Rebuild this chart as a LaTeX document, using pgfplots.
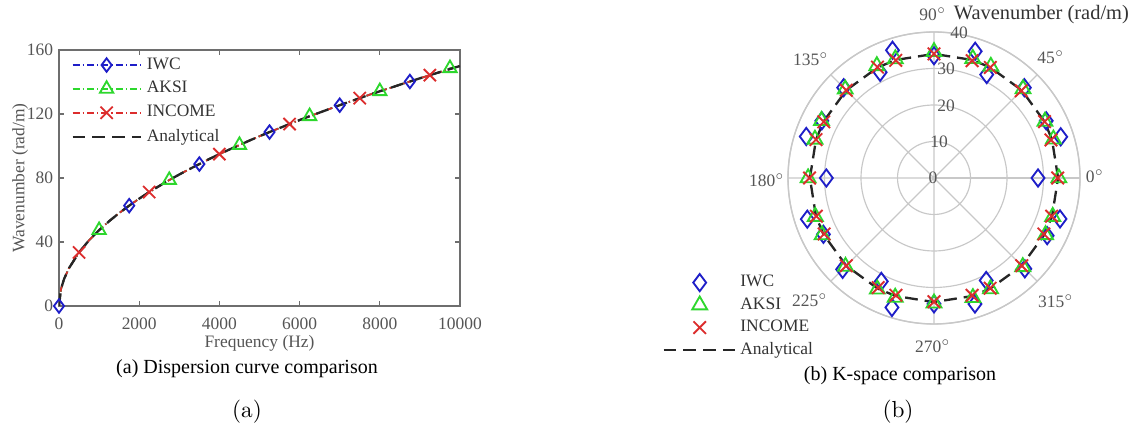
\documentclass[border=0pt]{standalone}
\usepackage{fontspec}
\newfontfamily\tnr{Liberation Serif}
\usepackage{pgfplots}
\usepackage{pgfplotstable}
\pgfplotsset{compat=1.18}
\usepgfplotslibrary{polar}
\definecolor{cblue}{RGB}{30,30,200}
\definecolor{cgreen}{RGB}{45,215,45}
\definecolor{cred}{RGB}{220,45,45}
\definecolor{txtgray}{RGB}{85,85,85}
\definecolor{axgray}{RGB}{110,110,110}
\definecolor{gridgray}{RGB}{200,200,200}
\newcommand\ft{\tnr\fontsize{7.5pt}{9pt}\selectfont}
\newcommand\ftcap{\tnr\fontsize{8.6pt}{10pt}\selectfont}
\newcommand\fttitle{\tnr\fontsize{8.8pt}{10pt}\selectfont}
\pgfplotsset{
  mylegmark/.style={legend image code/.code={\path[draw=none] (0pt,0pt) -- (32.5pt,0pt); \draw[##1, only marks] plot coordinates {(15.5pt,0pt)};}},
  mylegline/.style={legend image code/.code={\path[draw=none] (0pt,0pt) -- (32.5pt,0pt); \draw[##1] plot coordinates {(0pt,0pt) (30.5pt,0pt)};}},
  mylegleft/.style={legend image code/.code={\path[draw=none] (0pt,0pt) -- (31.4pt,0pt); \draw[##1, mark indices={2}] plot coordinates {(0pt,0pt) (14.6pt,0pt) (29.2pt,0pt)};}},
}

\pgfplotstableread{
f     iwc    aksi   income ana
0     0      0      0      0
50    10.6   10.6   10.6   10.6
125   16.8   16.8   16.8   16.8
250   23.7   23.7   23.7   23.7
500   33.5   33.5   33.5   33.5
750   41.1   41.1   41.1   41.1
1000  47.4   47.4   47.4   47.4
1250  53.0   53.0   53.0   53.0
1500  58.1   58.1   58.1   58.1
1750  62.7   62.7   62.7   62.7
2000  67.1   67.1   67.1   67.1
2250  71.2   71.2   71.2   71.2
2500  75.0   75.0   75.0   75.0
2750  78.7   78.7   78.7   78.7
3000  82.2   82.2   82.2   82.2
3250  85.5   85.5   85.5   85.5
3500  88.7   88.7   88.7   88.7
3750  91.9   91.9   91.9   91.9
4000  94.9   94.9   94.9   94.9
4250  97.8   97.8   97.8   97.8
4500  100.6  100.6  100.6  100.6
4750  103.4  103.4  103.4  103.4
5000  106.1  106.1  106.1  106.1
5250  108.7  108.7  108.7  108.7
5500  111.2  111.2  111.2  111.2
5750  113.7  113.7  113.7  113.7
6000  116.2  116.2  116.2  116.2
6250  118.6  118.6  118.6  118.6
6500  120.9  120.9  120.9  120.9
6750  123.2  123.2  123.2  123.2
7000  125.5  125.5  125.5  125.5
7250  127.7  127.7  127.7  127.7
7500  129.9  129.9  129.9  129.9
7750  132.1  132.1  132.1  132.1
8000  134.2  134.2  134.2  134.2
8250  136.2  136.2  136.2  136.2
8500  138.3  138.3  138.3  138.3
8750  140.3  140.3  140.3  140.3
9000  142.3  142.3  142.3  142.3
9250  144.3  144.3  144.3  144.3
9500  146.2  146.2  146.2  146.2
9750  148.1  148.6  148.1  148.1
10000 150.0  150.0  150.0  150.0
}\dispersion

\begin{document}
\begin{tikzpicture}
\useasboundingbox (0,0) rectangle (492.35pt,186.62pt);

\begin{axis}[
  scale only axis, width=172.43pt, height=110.08pt,
  at={(25.37pt,55.04pt)}, anchor=south west,
  xmin=0, xmax=10000, ymin=0, ymax=160,
  xtick={0,2000,4000,6000,8000,10000},
  ytick={0,40,80,120,160},
  scaled x ticks=false,
  /pgf/number format/1000 sep={},
  /pgf/number format/assume math mode=true,
  tick align=inside, major tick length=2pt,
  axis line style={axgray, line width=0.6pt},
  tick style={axgray, line width=0.5pt},
  ticklabel style={font=\ft, text=txtgray},
  x tick label style={yshift=-1.5pt},
  y tick label style={xshift=1pt},
  xlabel={Frequency (Hz)}, ylabel={Wavenumber (rad/m)},
  label style={font=\ft, text=txtgray},
  xlabel style={at={(axis description cs:0.5,-0.145)}, anchor=center},
  ylabel style={at={(axis description cs:-0.097,0.5)}, anchor=center},
  legend style={at={(0.03,0.977)}, anchor=north west, draw=none, fill=none,
    font=\ft, text=black!80, inner sep=0pt, row sep=2.8pt,
    nodes={inner sep=0.5pt}},
  legend cell align=left,
  mylegleft,
]
\addplot[cblue, line width=0.75pt, dash pattern=on 3pt off 1.3pt on 0.6pt off 1.3pt,
  mark=diamond, mark size=2.9pt, mark options={solid, line width=0.8pt},
  mark indices={1,10,17,24,31,38}] table[x=f, y=iwc] {\dispersion};
\addlegendentry{IWC}
\addplot[cgreen, line width=0.75pt, dash pattern=on 3pt off 1.3pt on 0.6pt off 1.3pt,
  mark=triangle, mark size=3.3pt, mark options={solid, line width=0.8pt},
  mark indices={7,14,21,28,35,42}] table[x=f, y=aksi] {\dispersion};
\addlegendentry{AKSI}
\addplot[cred, line width=0.75pt, dash pattern=on 3pt off 1.3pt on 0.6pt off 1.3pt,
  mark=x, mark size=3.7pt, mark options={solid, line width=0.8pt},
  mark indices={5,12,19,26,33,40}] table[x=f, y=income] {\dispersion};
\addlegendentry{INCOME}
\addplot[black!85, line width=1pt, dash pattern=on 5.5pt off 3pt] table[x=f, y=ana] {\dispersion};
\addlegendentry{Analytical}
\end{axis}

\begin{polaraxis}[
  scale only axis, width=125.56pt, height=125.56pt,
  at={(401.62pt,110.08pt)}, anchor=center,
  xmin=0, xmax=360, ymin=0, ymax=40,
  xtick={0,45,...,315}, ytick={10,20,30,40},
  xticklabels={}, yticklabels={},
  major tick length=0pt,
  xmajorgrids, ymajorgrids,
  major grid style={gridgray, line width=0.5pt},
  axis line style={gridgray, line width=0.6pt},
  clip=false,
  legend style={at={(-0.4315,0.173)}, anchor=north west, draw=none, fill=none,
    font=\ft, text=black!80, inner sep=0pt, row sep=2.2pt,
    nodes={inner sep=0.5pt}},
  legend cell align=left,
  mylegline,
]
\addplot[cblue, only marks, mark=diamond, mark size=3.7pt, mark options={line width=0.8pt}, mylegmark] coordinates {
 (0,28.5) (18,36.5) (27,34.5) (45,35.0) (63,31.8) (72,36.5)
 (90,33.5) (108,36.8) (117,32.5) (135,35.0) (153,34.5) (162,36.8)
 (180,29.5) (198,36.5) (207,34.0) (225,35.4) (243,31.8) (252,37.3)
 (270,34.5) (288,36.3) (297,31.5) (315,35.2) (333,34.8) (342,36.3)};
\addlegendentry{IWC}
\addplot[cgreen, only marks, mark=triangle, mark size=3.7pt, mark options={line width=0.8pt}, mylegmark] coordinates {
 (0,34.2) (18,34.4) (27,34.1) (45,34.5) (63,34.3) (72,34.4)
 (90,34.6) (108,34.3) (117,34.5) (135,34.4) (153,34.6) (162,34.3)
 (180,34.5) (198,34.2) (207,34.4) (225,34.3) (243,34.2) (252,34.4)
 (270,34.3) (288,34.5) (297,34.1) (315,34.4) (333,34.3) (342,34.2)};
\addlegendentry{AKSI}
\addplot[cred, only marks, mark=x, mark size=3.8pt, mark options={line width=0.8pt}, mylegmark] coordinates {
 (0,33.9) (18,33.7) (27,34.0) (45,33.8) (63,34.0) (72,33.8)
 (90,34.0) (108,33.9) (117,34.1) (135,34.0) (153,33.9) (162,34.0)
 (180,34.1) (198,33.9) (207,33.8) (225,34.0) (243,33.7) (252,33.8)
 (270,33.9) (288,33.8) (297,33.9) (315,34.0) (333,33.8) (342,33.9)};
\addlegendentry{INCOME}
\addplot[black!85, line width=1pt, dash pattern=on 5.5pt off 3pt] coordinates {
 (0,34) (18,34) (27,34) (45,34) (63,34) (72,34)
 (90,34) (108,34) (117,34) (135,34) (153,34) (162,34)
 (180,34) (198,34) (207,34) (225,34) (243,34) (252,34)
 (270,34) (288,34) (297,34) (315,34) (333,34) (342,34) (360,34)};
\addlegendentry{Analytical}
\end{polaraxis}

% angle labels
\begin{scope}[every node/.style={font=\ft, text=txtgray, inner sep=0pt}]
\node at (401.19pt,180.6pt) {90$^{\circ}$};
\node at (451.93pt,162.11pt) {45$^{\circ}$};
\node at (470.85pt,110.94pt) {0$^{\circ}$};
\node at (348.73pt,161.25pt) {135$^{\circ}$};
\node at (329.81pt,109.22pt) {180$^{\circ}$};
\node at (348.3pt,57.62pt) {225$^{\circ}$};
\node at (401.19pt,37.84pt) {270$^{\circ}$};
\node at (454.08pt,57.19pt) {315$^{\circ}$};
% radial labels
\node at (412.37pt,172.43pt) {40};
\node at (406.78pt,156.95pt) {30};
\node at (406.78pt,141.04pt) {20};
\node at (403.77pt,125.56pt) {10};
\node at (401.19pt,110.08pt) {0};
\end{scope}
\node[font=\fttitle, text=black!80, inner sep=0pt] at (447.8pt,180.2pt) {Wavenumber (rad/m)};

% captions
\node[font=\ftcap, inner sep=0pt] at (106.21pt,27.95pt) {(a) Dispersion curve comparison};
\node[font=\ftcap, inner sep=0pt] at (387pt,24.94pt) {(b) K-space comparison};
\node[inner sep=0pt] at (106.21pt,9.46pt) {(a)};
\node[inner sep=0pt] at (386.14pt,9.46pt) {(b)};
\end{tikzpicture}
\end{document}
